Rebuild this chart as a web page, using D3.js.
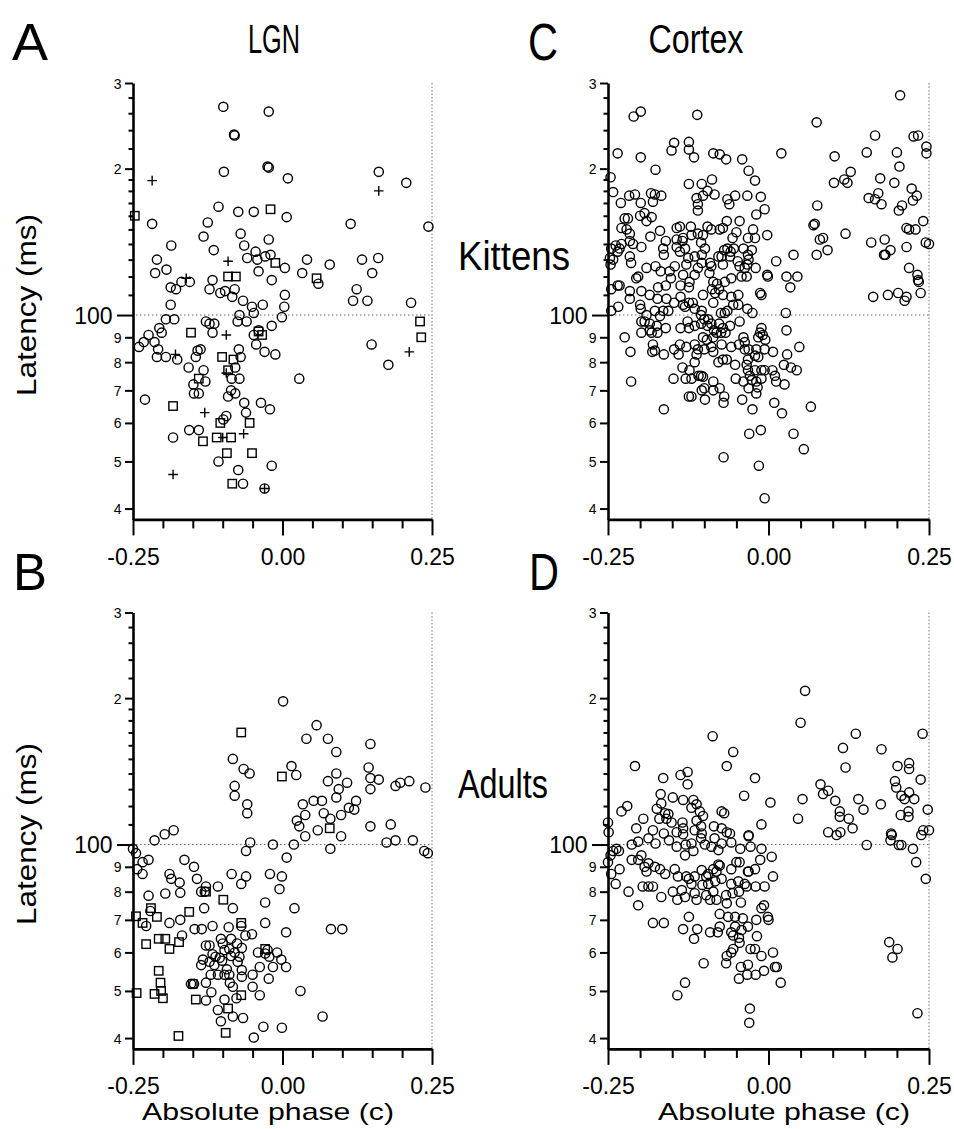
<!DOCTYPE html>
<html>
<head>
<meta charset="utf-8">
<script src="https://cdn.jsdelivr.net/npm/d3@7"></script>
<style>
  body { margin: 0; background: #fff; }
  svg text { font-family: "Liberation Sans", Arial, Helvetica, sans-serif; fill: #000; }
</style>
</head>
<body>
<div id="chart"></div>
<script>
// ---- data: [absolute phase (c), latency (ms)] ----

// A: LGN, kittens
var lgnKitCircles = [[-0.099,268],[-0.023,262],[-0.081,235],[-0.080,234],[-0.025,202],[-0.023,201],[-0.098,197],[0.009,191],[0.161,197],[0.207,187],[-0.107,167],[-0.074,163],[-0.048,163],[0.007,159],[-0.218,154],[-0.125,155],[0.114,154],[0.244,152],[-0.132,145],[-0.070,147],[-0.023,143],[-0.186,139],[-0.115,136],[-0.064,139],[-0.045,135],[-0.059,131],[-0.042,130],[-0.029,132],[-0.020,133],[-0.210,130],[0.004,125],[0.041,130],[0.079,127],[0.133,130],[0.160,131],[-0.213,122],[-0.194,124],[-0.040,123],[0.033,122],[0.150,122],[-0.018,118],[-0.187,114],[-0.178,113],[-0.169,117],[-0.155,117],[-0.117,118],[-0.122,113],[-0.096,112],[-0.080,113],[0.060,116],[0.124,113],[0.004,110],[-0.104,111],
  [-0.084,109],[-0.066,107],[-0.187,105],[-0.195,98],[-0.181,98],[-0.224,91],[-0.206,94],[-0.202,92],[-0.232,88],[-0.240,86],[-0.214,88],[-0.208,85],[-0.210,82],[-0.195,82],[-0.176,81],[-0.128,97],[-0.122,96],[-0.114,96],[-0.117,92],[-0.072,100],[-0.075,97],[-0.060,97],[-0.051,104],[-0.048,101],[-0.033,105],[-0.001,99],[0.003,104],[-0.018,95],[-0.044,87],[-0.048,91],[-0.040,93],[-0.030,84],[-0.012,83],[-0.073,85],[-0.070,82],[-0.145,82],[-0.142,84.5],[-0.137,85],[-0.157,78],[-0.132,77],[-0.129,73],[-0.149,72],[-0.148,69],[-0.140,69],[-0.072,74],[-0.085,74],[-0.079,78],[-0.086,70],[-0.079,69],[-0.091,68],[-0.064,66],[-0.061,63],[-0.036,66],[-0.021,64],[0.028,74],[0.118,107],[0.142,107],[0.215,106],[0.149,87],[0.177,79],[-0.230,67],[-0.183,56],[-0.156,58],[-0.140,58],[-0.094,62],[-0.099,61],[-0.107,50],[-0.074,48],[-0.066,45],[-0.018,49],[-0.030,44]];
var lgnKitSquares = [[-0.247,160],[-0.020,165],[-0.012,128],[0.057,119],[-0.091,120],[-0.078,120],[-0.153,92],[-0.040,92.5],[-0.034,91],[-0.101,82],[-0.082,81],[-0.091,77],[-0.140,74],[-0.183,65],[-0.104,60],[-0.055,60],[-0.133,55],[-0.110,56],[-0.086,56],[-0.093,52],[-0.051,52],[-0.084,45],[0.230,97],[0.232,90]];
var lgnKitPlus = [[-0.218,189],[0.161,180],[-0.091,129],[-0.161,119],[-0.179,83],[-0.094,91],[-0.094,76],[-0.130,63],[-0.065,57],[-0.100,56],[-0.183,47],[-0.030,44],[0.212,84]];

// B: LGN, adults
var lgnAdCircles = [[0.001,197],[0.057,176],[0.040,165],[0.076,165],[0.090,155],[0.147,161],[-0.083,150],[-0.065,143],[-0.055,140],[0.015,145],[0.023,139],[0.076,135],[0.090,140],[0.094,130],[0.108,134],[0.144,144],[0.147,137],[0.147,130],[0.161,136],[0.189,132],[0.197,134],[0.212,135],[0.239,131],[-0.080,132],[-0.080,126],[-0.059,121],[-0.059,116],[0.034,121],[0.052,123],[0.066,123],[0.038,115],[0.069,116],[0.090,125],[0.098,115],[0.111,119],[0.120,118],[0.123,123],[0.024,112],[0.028,109],[0.080,113],[0.147,109],[0.181,110],
  [-0.214,102],[-0.197,105],[-0.182,107],[-0.054,101],[-0.061,97],[-0.016,100],[0.019,100],[0.038,104],[0.059,107],[0.098,104],[0.080,98],[0.174,101],[0.189,102],[0.218,102],[0.237,97],[0.243,96],[-0.250,98],[-0.245,96],[-0.234,92],[-0.224,93],[-0.243,89],[-0.234,87],[-0.164,93],[-0.148,90],[-0.189,87],[-0.186,85],[-0.172,83.5],[-0.143,85],[-0.128,82],[-0.136,80],[-0.130,80],[-0.108,82],[-0.085,87],[-0.069,83],[-0.061,86],[-0.021,87],[-0.001,86],[0.007,94],[-0.005,81],[-0.224,78.5],[-0.196,79.3],[-0.171,79.6],[-0.131,74],[-0.083,74],[-0.029,76],[0.020,74],[-0.221,73],[-0.189,69],[-0.171,70],[-0.168,65],[-0.147,67],[-0.135,67],[-0.117,68],[-0.090,67.6],[-0.086,64],[-0.069,68],[-0.062,65],[-0.051,65.4],[-0.029,69],[0.006,66],[-0.228,68],[-0.128,62],[-0.122,62],[-0.133,58],[-0.136,56.5],[-0.122,57.4],[-0.117,59.5],[-0.114,56.5],[-0.103,64],[-0.100,62.6],[-0.097,60.7],[-0.089,61],[-0.086,59],[-0.080,60],[-0.076,62.6],[-0.068,61.3],[-0.072,58.8],[-0.075,57.4],[-0.068,55.2],[-0.101,57.7],[-0.105,58.5],[-0.112,58.8],[-0.120,54],[-0.108,54],[-0.097,54],[-0.089,54],[-0.093,55.4],[-0.088,52],[-0.083,51],[-0.068,53.5],[-0.050,54],[-0.038,56],[-0.041,60],[-0.029,59.7],[-0.025,60.7],[-0.022,58.8],[-0.016,56],[-0.009,60],[-0.002,58],[0.006,56],[-0.023,53],[-0.050,51],[-0.038,49],[-0.148,51.7],[-0.153,51.7],[-0.128,52],[-0.119,49.7],[-0.128,47.8],[-0.097,48],[-0.077,48.3],[-0.108,45.7],[-0.103,43.3],[-0.083,44.3],[-0.066,44],[-0.048,40.1],[-0.032,42.2],[-0.001,42],[0.030,50],[0.067,44.3],[0.081,67],[0.100,67]];
var lgnAdSquares = [[-0.069,170],[-0.001,138],[0.079,108],[-0.245,71.2],[-0.234,69],[-0.220,74],[-0.210,71],[-0.156,72.7],[-0.128,80],[-0.099,77],[-0.069,69],[-0.207,64],[-0.196,64],[-0.189,61],[-0.173,63],[-0.228,62.4],[-0.207,55],[-0.204,52],[-0.203,50],[-0.200,48.3],[-0.244,49.5],[-0.214,49.3],[-0.145,48],[-0.150,51.7],[-0.091,46],[-0.069,49],[-0.174,40.4],[-0.095,41],[-0.029,61]];

// C: cortex, kittens
var ctxKitCircles = [[0.205,283],[-0.210,256],[-0.199,262],[-0.111,258],[0.075,249],[-0.235,215],[-0.199,211],[-0.147,226],[-0.151,218],[-0.124,227],[-0.124,219],[-0.116,211],[-0.086,215],[-0.076,214],[-0.066,209],[-0.041,209],[0.020,215],[0.103,212],[0.153,216],[0.166,234],[0.200,216],[0.226,233],[0.233,234],[0.246,222],[0.246,215],[0.204,202],[-0.176,199],[-0.031,198],[-0.021,189],[-0.088,190],[-0.104,186],[-0.124,186],[0.128,197],[0.118,190],[0.123,187],[0.102,187],[0.174,191],[0.196,187],[-0.246,192],[-0.242,179],[-0.095,180],[-0.084,177],[-0.102,176],[-0.112,174],[-0.110,169],[-0.110,164],[-0.064,173],[-0.061,169],[-0.052,176],[-0.033,176],[-0.012,175],[-0.006,165],[-0.019,161],[0.076,168],[0.156,174],[0.166,173],[0.171,178],[0.176,169],[0.223,182],[0.231,176],[0.225,172],[0.203,164],[0.208,168],[-0.217,176],[-0.208,177],[-0.230,170],[-0.183,178],[-0.177,177],[-0.167,176],[-0.199,170],[-0.180,171],[-0.182,159],[-0.193,162],[-0.200,160],[-0.190,156],[-0.224,158],[-0.219,158],[-0.229,151],[-0.221,150],[-0.216,147],[-0.229,140],[-0.216,142],[-0.211,140],[-0.238,139],[-0.245,137],[-0.235,135],[-0.232,137],[-0.247,131],[-0.242,130],[-0.246,127],[-0.216,132],[-0.214,128],[-0.198,138],[-0.184,145],[-0.169,149],[-0.160,142],[-0.164,137],[-0.163,133],[-0.190,125],[-0.176,126],[-0.168,123],[-0.154,123],[-0.146,126],[-0.152,119],[-0.160,115],[-0.172,114],[-0.203,120],[-0.206,119],[-0.232,115],[-0.245,113],[-0.235,115],[-0.216,112],[-0.198,112],[-0.143,151],[-0.138,152],[-0.143,143],[-0.133,144],[-0.121,152],[-0.120,146],[-0.130,137],[-0.138,135],[-0.143,138],[-0.134,142],[-0.125,131],[-0.128,127],[-0.133,121],[-0.123,117],[-0.124,114],[-0.137,115],[-0.115,121],[-0.110,125],[-0.104,128],[-0.115,132],[-0.104,133],[-0.099,137],[-0.102,146],[-0.105,141],[-0.110,147],[-0.095,152],[-0.089,150],[-0.076,150],[-0.071,151],[-0.065,156],[-0.045,156],[-0.050,148],[-0.056,144],[-0.054,137],[-0.064,137],[-0.069,136],[-0.059,135],[-0.073,132],[-0.078,132],[-0.091,128],[-0.089,126],[-0.092,122],[-0.071,127],[-0.060,132],[-0.048,129],[-0.045,126],[-0.039,137],[-0.032,144],[-0.021,144],[-0.024,150],[-0.002,146],[-0.026,136],[-0.032,133],[-0.031,130],[-0.033,127],[-0.037,125],[-0.020,125],[-0.042,120],[-0.034,120],[-0.058,119],[-0.068,117],[-0.080,116],[-0.086,117],[-0.088,113],[-0.077,113],[-0.083,111],[-0.102,110],[-0.047,110],[0.012,129],[0.039,133],[-0.002,121],[-0.001,120],[0.028,120],[0.045,120],[0.034,114],[0.070,153],[0.072,154],[0.075,133],[0.085,144],[0.080,143],[0.092,136],[0.120,147],[0.160,141],[0.181,143],[0.190,136],[0.180,133],[0.182,133],[0.215,138],[0.219,150],[0.215,151],[0.229,150],[0.241,156],[0.245,141],[0.250,140],[0.219,125],[0.232,121],[0.233,118],[0.234,117],[0.237,111],[0.202,111],[0.186,110],[0.163,109],[-0.013,111],[-0.011,110],
  [-0.245,102],[-0.234,104],[-0.216,108],[-0.200,105],[-0.199,103],[-0.185,110],[-0.173,108],[-0.159,108],[-0.147,106],[-0.137,109],[-0.133,105],[-0.124,106],[-0.118,106],[-0.086,106],[-0.071,110],[-0.058,109],[-0.055,105],[-0.047,105],[-0.033,103],[-0.025,101],[-0.064,102],[-0.068,101],[-0.074,101],[-0.104,102],[-0.105,100],[-0.115,103],[-0.130,104],[-0.156,102],[-0.164,102],[-0.169,99.5],[-0.177,102],[-0.190,100],[-0.193,97],[-0.185,96],[-0.198,97],[-0.185,93],[-0.174,95],[-0.198,92],[-0.182,92],[-0.173,92],[-0.160,94],[-0.137,94],[-0.126,97],[-0.124,94],[-0.115,95],[-0.105,96],[-0.100,98],[-0.094,98],[-0.089,96],[-0.095,95],[-0.102,90],[-0.096,89],[-0.086,90],[-0.085,93],[-0.077,96],[-0.071,94],[-0.074,92],[-0.067,92],[-0.081,92],[-0.060,95],[-0.045,97],[0.027,101],[0.028,93],[-0.011,94],[-0.013,92],[-0.009,91],[-0.016,90],[-0.005,89],[-0.224,90],[-0.215,84],[-0.214,73],[-0.180,87],[-0.177,84.5],[-0.181,84],[-0.163,83],[-0.147,85],[-0.138,87],[-0.140,83],[-0.128,86],[-0.115,87],[-0.110,85],[-0.112,83],[-0.100,85],[-0.089,86],[-0.086,84],[-0.073,87],[-0.058,86],[-0.046,87],[-0.039,90],[-0.037,88],[-0.037,85],[-0.031,85],[-0.019,85],[-0.006,85],[0.007,84],[0.029,83],[0.048,86],[-0.115,80],[-0.078,80],[-0.071,81],[-0.065,81],[-0.052,79],[-0.032,81],[-0.034,79],[-0.021,82.5],[-0.016,82],[-0.134,78],[-0.123,77],[-0.109,75],[-0.105,75],[-0.102,74.7],[-0.129,74],[-0.120,74],[-0.148,74],[-0.032,77],[-0.029,75],[-0.021,77],[-0.011,77],[-0.006,77],[0.006,77],[0.010,75],[0.012,73],[0.024,79],[0.035,78],[0.044,77],[0.025,72],[-0.011,74],[-0.019,73],[-0.026,73.5],[-0.039,73],[-0.051,74],[-0.031,70.7],[-0.017,71],[-0.086,73],[-0.076,70.7],[-0.100,70.7],[-0.104,70],[-0.120,68],[-0.124,68],[-0.086,70],[-0.069,68],[-0.070,66],[-0.099,67],[-0.041,67],[-0.019,69],[0.009,66],[-0.025,64],[0.021,62.8],[0.066,64.8],[-0.163,64],[-0.030,57],[-0.012,58],[0.039,57],[0.055,53],[-0.070,51],[-0.015,49],[-0.006,42],[0.212,107],[0.215,109]];

// D: cortex, adults
var ctxAdCircles = [[0.057,207],[0.050,178],[-0.087,167],[-0.055,155],[0.136,169],[0.240,169],[0.116,158],[0.176,157],[-0.208,145],[-0.065,145],[0.120,144],[0.201,145],[0.219,147],[0.219,143],[-0.164,137],[-0.137,139],[-0.126,141],[-0.126,133],[-0.021,137],[0.197,135],[0.199,131],[0.237,136],[0.081,133],[0.085,127],[0.093,129],[0.104,123],[0.053,124],[0.140,124],[0.148,118],[0.175,121],[0.207,126],[0.212,124],[0.219,128],[0.227,124],[0.248,118],[0.206,115],[0.218,117],[0.218,114],[0.111,117],[0.111,114],[0.125,113],[0.131,108],[0.093,106],[0.112,106],[0.106,104.6],[0.046,113],[-0.168,127],[-0.149,125],[-0.133,123.5],[-0.117,123.5],[-0.112,121],[-0.120,119],[-0.107,117],[-0.102,114.5],[-0.112,112],[-0.167,121.5],[-0.174,118.5],[-0.170,113],[-0.161,116],[-0.156,115.5],[-0.159,113],[-0.151,111],[-0.134,111],[-0.133,108],[-0.143,106],[-0.133,105],[-0.115,107],[-0.105,109],[-0.104,105.4],[-0.229,117],[-0.220,120],[-0.195,113],[-0.206,108],[-0.250,111],[-0.249,106],[-0.180,107],[-0.163,105.4],[-0.073,117],[-0.069,116],[-0.085,109],[-0.073,108],[-0.065,106],[-0.060,105.4],[-0.038,126],[0.003,122],[-0.011,110],[-0.031,104.5],[0.191,105.4],[0.192,104.6],[0.241,107],[0.250,107],[0.238,104.6],
  [-0.246,95],[-0.250,92],[-0.242,97],[-0.237,98],[-0.233,97],[-0.213,100],[-0.203,101.4],[-0.187,103],[-0.176,100.5],[-0.155,102],[-0.143,99],[-0.130,95],[-0.129,100],[-0.120,100.5],[-0.117,97],[-0.105,103],[-0.099,100],[-0.089,99],[-0.078,97.4],[-0.073,100.5],[-0.084,103],[-0.058,101],[-0.044,98],[-0.031,104],[-0.028,99],[-0.011,98],[-0.013,93],[0.005,94.4],[0.007,86],[-0.045,92],[-0.050,92],[-0.032,88],[-0.021,89],[-0.058,89],[-0.078,91],[-0.086,89],[-0.094,87],[-0.104,88.6],[-0.115,86],[-0.128,86],[-0.141,86],[-0.146,89],[-0.161,87],[-0.169,89],[-0.177,90],[-0.187,91.5],[-0.193,90],[-0.198,95],[-0.203,93],[-0.213,93],[-0.232,89],[-0.245,87],[-0.238,83],[-0.218,80],[-0.203,75],[-0.196,82],[-0.187,82],[-0.180,82],[-0.190,88],[-0.167,78],[-0.149,80],[-0.142,77],[-0.135,80.6],[-0.130,78],[-0.124,85],[-0.120,83],[-0.115,79.4],[-0.112,77],[-0.103,82.6],[-0.097,78.7],[-0.097,86],[-0.094,83],[-0.091,77],[-0.086,80],[-0.083,84],[-0.081,77],[-0.081,88],[-0.076,90.5],[-0.073,85],[-0.066,78.7],[-0.065,75.7],[-0.058,83],[-0.056,79.4],[-0.047,84],[-0.046,80],[-0.043,76],[-0.037,83],[-0.034,82],[-0.031,88],[-0.020,82],[-0.006,82],[-0.011,74],[-0.007,75],[-0.076,72],[-0.063,71],[-0.052,71],[-0.040,70.5],[-0.052,67.8],[-0.042,66.7],[-0.032,67.8],[-0.019,70],[-0.058,66],[-0.055,65],[-0.046,64.3],[-0.045,62.8],[-0.018,64.8],[-0.001,71],[0.000,70],[-0.076,67.8],[-0.091,66],[-0.079,66],[-0.124,71],[-0.133,67],[-0.111,67],[-0.116,64],[-0.180,69],[-0.163,69],[0.007,60],[-0.011,59],[-0.028,61],[-0.021,61],[-0.055,61],[-0.058,60],[-0.065,59],[-0.066,57],[-0.101,57],[-0.043,56],[-0.032,56.6],[-0.033,54],[-0.046,53],[-0.020,54],[-0.007,55],[0.010,56],[0.013,56],[0.019,52],[-0.130,52],[-0.142,49],[-0.029,46],[-0.030,43],[0.232,45],[0.188,63],[0.201,61],[0.193,58.6],[0.153,99.8],[0.190,102],[0.203,99.8],[0.207,99.8],[0.225,98],[0.230,92],[0.245,85]];

// axis ticks
var xTickVals = [-0.25, -0.2, -0.15, -0.1, -0.05, 0, 0.05, 0.1, 0.15, 0.2, 0.25];
var xTickLabels = {"-0.25": "-0.25", "0": "0.00", "0.25": "0.25"};
var yTickVals = [40, 50, 60, 70, 80, 90, 100, 110, 120, 130, 140, 150, 160, 170, 180, 190, 200, 220, 240, 260, 280, 300];
var yTickLabels = {40: "4", 50: "5", 60: "6", 70: "7", 80: "8", 90: "9", 100: "100", 200: "2", 300: "3"};

var width = 954, height = 1129;

var svg = d3.select("#chart").append("svg")
    .attr("width", width)
    .attr("height", height);

// panel frames
var panels = [
    {left: 133, right: 432, top: 83, bottom: 519.4, circles: lgnKitCircles, squares: lgnKitSquares, plus: lgnKitPlus},
    {left: 133, right: 432, top: 612.5, bottom: 1048.9, circles: lgnAdCircles, squares: lgnAdSquares, plus: []},
    {left: 608, right: 929, top: 83, bottom: 519.4, circles: ctxKitCircles, squares: [], plus: []},
    {left: 608, right: 929, top: 612.5, bottom: 1048.9, circles: ctxAdCircles, squares: [], plus: []}
];

panels.forEach(drawPanel);

function drawPanel(p) {
    var x = d3.scaleLinear().domain([-0.25, 0.25]).range([p.left, p.right]);
    var y = d3.scaleLog().domain([38, 300]).range([p.bottom, p.top]);
    var g = svg.append("g");

    // dotted reference lines
    g.append("line")
        .attr("x1", x(-0.25) + 3).attr("x2", x(0.25))
        .attr("y1", y(100)).attr("y2", y(100))
        .attr("stroke", "#555").attr("stroke-width", 0.9)
        .attr("stroke-dasharray", "1.5,2.5");
    g.append("line")
        .attr("x1", x(0.25)).attr("x2", x(0.25))
        .attr("y1", y(300)).attr("y2", y(38))
        .attr("stroke", "#777").attr("stroke-width", 1)
        .attr("stroke-dasharray", "1.5,2");

    // y axis
    var yAxis = d3.axisLeft(y)
        .tickValues(yTickVals)
        .tickSizeOuter(0)
        .tickFormat(function(d) { return yTickLabels[d] || ""; });
    var ya = g.append("g")
        .attr("transform", "translate(" + p.left + ",0)")
        .call(yAxis);
    ya.select(".domain").attr("stroke", "#000").attr("stroke-width", 2.6);
    ya.selectAll(".tick line")
        .attr("stroke", "#000").attr("stroke-width", 2)
        .attr("x2", function(d) { return d === 100 ? -16 : (yTickLabels[d] ? -8 : -4.5); });
    ya.selectAll(".tick text")
        .attr("x", function(d) { return d === 100 ? -20.5 : -11.5; })
        .attr("dy", "0.36em")
        .style("font-size", function(d) { return d === 100 ? "23px" : "14px"; });

    // x axis
    var xAxis = d3.axisBottom(x)
        .tickValues(xTickVals)
        .tickSizeOuter(0)
        .tickFormat(function(d) { return xTickLabels[String(+d.toFixed(2))] || ""; });
    var xa = g.append("g")
        .attr("transform", "translate(0," + p.bottom + ")")
        .call(xAxis);
    xa.select(".domain").attr("stroke", "#000").attr("stroke-width", 2.6);
    xa.selectAll(".tick line")
        .attr("stroke", "#000").attr("stroke-width", 2)
        .attr("y2", function(d) { return xTickLabels[String(+d.toFixed(2))] ? 16 : 9; });
    xa.selectAll(".tick text")
        .attr("y", 29)
        .style("font-size", "23px");

    // symbols
    g.selectAll("circle.pt").data(p.circles).enter()
        .append("circle")
        .attr("class", "pt")
        .attr("cx", function(d) { return x(d[0]); })
        .attr("cy", function(d) { return y(d[1]); })
        .attr("r", 4.6)
        .attr("fill", "none")
        .attr("stroke", "#000")
        .attr("stroke-width", 1.4);

    g.selectAll("rect.pt").data(p.squares).enter()
        .append("rect")
        .attr("class", "pt")
        .attr("x", function(d) { return x(d[0]) - 4.2; })
        .attr("y", function(d) { return y(d[1]) - 4.2; })
        .attr("width", 8.4).attr("height", 8.4)
        .attr("fill", "none")
        .attr("stroke", "#000")
        .attr("stroke-width", 1.4);

    g.selectAll("path.pt").data(p.plus).enter()
        .append("path")
        .attr("class", "pt")
        .attr("d", function(d) {
            var cx = x(d[0]), cy = y(d[1]);
            return "M" + (cx - 4.8) + "," + cy + "H" + (cx + 4.8) + "M" + cx + "," + (cy - 4.8) + "V" + (cy + 4.8);
        })
        .attr("stroke", "#000")
        .attr("stroke-width", 1.4);
}

// labels
function label(txt, x, y, size, len, rotate) {
    var t = svg.append("text")
        .attr("x", x).attr("y", y)
        .style("font-size", size + "px")
        .attr("text-anchor", "middle")
        .attr("textLength", len)
        .attr("lengthAdjust", "spacingAndGlyphs")
        .text(txt);
    if (rotate) t.attr("transform", "rotate(-90," + x + "," + y + ")");
    return t;
}

label("A", 30, 60, 52, 36);
label("B", 30, 590, 52, 34);
label("C", 543, 60, 52, 30);
label("D", 544, 590, 52, 30);
label("LGN", 274, 53, 40, 52);
label("Cortex", 696, 53, 40, 95);
label("Kittens", 514, 270, 40, 112);
label("Adults", 503, 798, 40, 90);
label("Latency (ms)", 36, 305, 27, 182, true);
label("Latency (ms)", 36, 834, 27, 182, true);
label("Absolute phase (c)", 268, 1120, 24, 252);
label("Absolute phase (c)", 784, 1120, 24, 252);
</script>
</body>
</html>
